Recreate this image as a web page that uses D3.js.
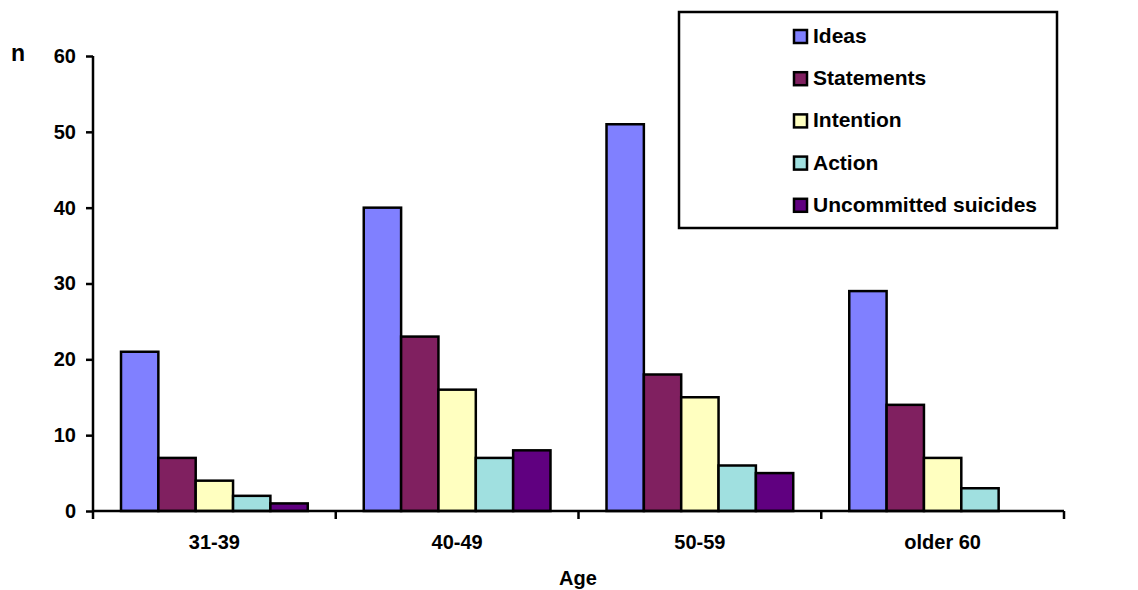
<!DOCTYPE html>
<html><head><meta charset="utf-8">
<script src="https://cdn.jsdelivr.net/npm/d3@7"></script>
<style>body{margin:0;background:#fff}svg{display:block;font-family:"Liberation Sans",Arial,sans-serif;font-weight:bold}</style>
</head><body><svg id="c" width="1138" height="590"></svg>
<script>
const categories = ["31-39","40-49","50-59","older 60"];
const seriesNames = ["Ideas","Statements","Intention","Action","Uncommitted suicides"];
const ideas = [21,40,51,29];
const statements = [7,23,18,14];
const intention = [4,16,15,7];
const action = [2,7,6,3];
const uncommitted = [1,8,5,0];
const yTicks = [0,10,20,30,40,50,60];
const colors = ["#8080FF","#802060","#FFFFC0","#A0E0E0","#600080"];
const series = [ideas,statements,intention,action,uncommitted];
const FF = "Liberation Sans, Arial, sans-serif";

const svg = d3.select("#c");
const x0 = d3.scaleBand().domain(categories).range([93,1064]).paddingInner(0).paddingOuter(0);
const inner = d3.scaleBand().domain(d3.range(5)).range([0,x0.bandwidth()]).paddingOuter(0.75).paddingInner(0);
const y = d3.scaleLinear().domain([0,60]).range([511,56]);

// bars
categories.forEach((c,ci)=>{
  series.forEach((s,si)=>{
    if(s[ci]<=0) return;
    svg.append("rect")
      .attr("x", x0(c)+inner(si))
      .attr("y", y(s[ci]))
      .attr("width", inner.bandwidth())
      .attr("height", y(0)-y(s[ci]))
      .attr("fill", colors[si]).attr("stroke","#000").attr("stroke-width",2.5);
  });
});

// y axis
const yAxis = d3.axisLeft(y).tickValues(yTicks).tickSize(7).tickPadding(10);
const gy = svg.append("g").attr("transform","translate(93,0)").call(yAxis);
gy.select(".domain").attr("stroke","#000").attr("stroke-width",2.5).attr("d","M0,56V511");
gy.selectAll(".tick line").attr("stroke","#000").attr("stroke-width",2.5);
gy.selectAll(".tick text").attr("font-size",20).attr("font-weight","bold").attr("fill","#000").attr("font-family",FF);

// x axis
const xAxis = d3.axisBottom(x0).tickSize(0).tickPadding(0);
const gx = svg.append("g").attr("transform","translate(0,511)").call(xAxis);
gx.select(".domain").attr("stroke","#000").attr("stroke-width",2.5).attr("d","M93,0H1064");
gx.selectAll(".tick text").attr("font-size",20).attr("font-weight","bold").attr("fill","#000")
  .attr("font-family",FF).attr("dy",null).attr("y",38);
// category boundary ticks
const bounds = categories.map(c=>x0(c)).concat([x0(categories[categories.length-1])+x0.bandwidth()]);
svg.append("g").selectAll("line").data(bounds).join("line")
  .attr("x1",d=>d).attr("x2",d=>d).attr("y1",511).attr("y2",519)
  .attr("stroke","#000").attr("stroke-width",2.5);

// axis titles
svg.append("text").attr("x",11).attr("y",61).attr("font-size",23).text("n");
svg.append("text").attr("x",578).attr("y",585).attr("text-anchor","middle").attr("font-size",20).text("Age");

// legend
const lg = svg.append("g");
lg.append("rect").attr("x",679).attr("y",12).attr("width",378).attr("height",216)
  .attr("fill","#fff").attr("stroke","#000").attr("stroke-width",2.5);
seriesNames.forEach((n,i)=>{
  const base = 43 + i*42.2;
  lg.append("rect").attr("x",794).attr("y",base-13).attr("width",13).attr("height",13)
    .attr("fill",colors[i]).attr("stroke","#000").attr("stroke-width",2.5);
  lg.append("text").attr("x",813).attr("y",base).attr("font-size",21).text(n);
});
</script></body></html>
